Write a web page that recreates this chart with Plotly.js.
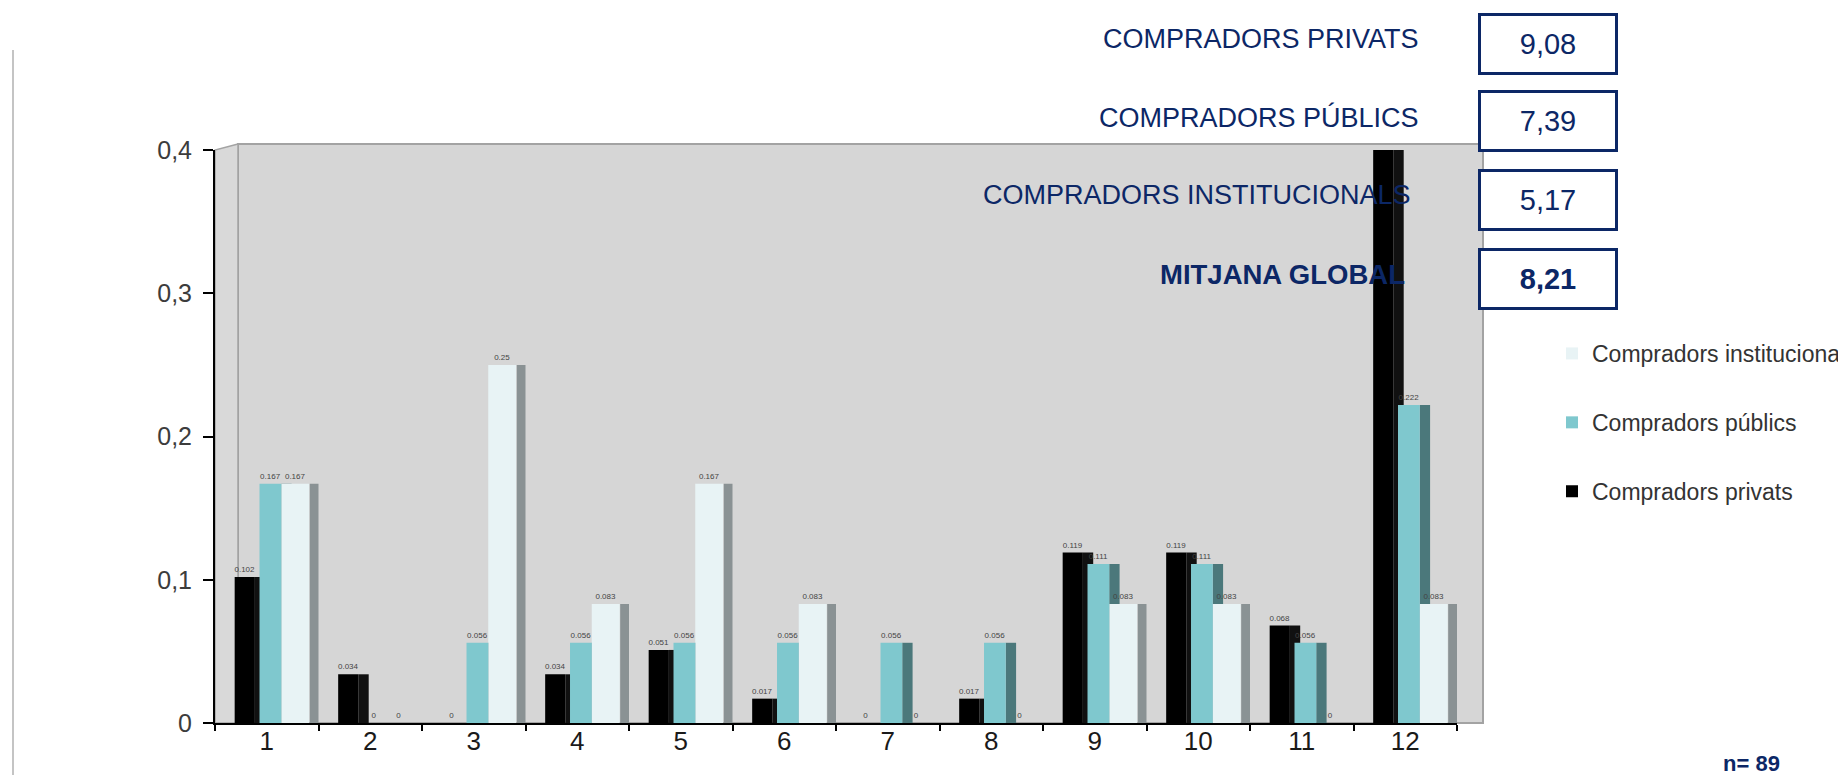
<!DOCTYPE html>
<html>
<head>
<meta charset="utf-8">
<script src="https://cdn.plot.ly/plotly-3.0.1.min.js"></script>
<style>
html,body{margin:0;padding:0;background:#fff;}
#chart{width:1838px;height:775px;}
</style>
</head>
<body>
<div id="chart"></div>
<script>
// ---- data ----
const categories = ['1','2','3','4','5','6','7','8','9','10','11','12'];
const privats = [0.102, 0.034, 0, 0.034, 0.051, 0.017, 0, 0.017, 0.119, 0.119, 0.068, 0.441];
const publics = [0.167, 0, 0.056, 0.056, 0.056, 0.056, 0.056, 0.056, 0.111, 0.111, 0.056, 0.222];
const institucionals = [0.167, 0, 0.25, 0.083, 0.167, 0.083, 0, 0, 0.083, 0.083, 0, 0.083];
const seriesNames = ['Compradors privats', 'Compradors públics', 'Compradors institucionals'];
const yTicks = [0, 0.1, 0.2, 0.3, 0.4];
const summaryLabels = ['COMPRADORS PRIVATS', 'COMPRADORS PÚBLICS', 'COMPRADORS INSTITUCIONALS', 'MITJANA GLOBAL'];
const summaryValues = ['9,08', '7,39', '5,17', '8,21'];
const sampleLabel = 'n= 89';

// ---- layout geometry ----
const W = 1838, H = 775;
const M = {l: 215, r: 381, t: 150, b: 52, autoexpand: false};
const PW = W - M.l - M.r, PH = H - M.t - M.b;
const px2x = p => (p - M.l) / PW;
const px2y = p => (H - M.b - p) / PH;

const navy = '#0c2766';
const sans = 'Liberation Sans, Arial, sans-serif';

function side(y, offset, width, color) {
  return {type: 'bar', x: categories, y: y, offset: offset, width: width,
    marker: {color: color, line: {width: 0}}, showlegend: false, hoverinfo: 'skip'};
}
function front(y, name, offset, width, color, group) {
  return {type: 'bar', x: categories, y: y, name: name, offset: offset, width: width,
    legendgroup: group,
    marker: {color: color, line: {width: 0}},
    text: y.map(v => String(v)), texttemplate: '%{text}', textposition: 'outside',
    constraintext: 'none',
    textfont: {size: 8, color: '#444', family: sans}};
}

const traces = [
  side(privats, -0.115, 0.1, '#111111'),
  side(publics, 0.14, 0.1, '#4b787b'),
  side(institucionals, 0.415, 0.085, '#8a9294'),
  front(institucionals, seriesNames[2], 0.14, 0.27, '#e8f3f5', 'c'),
  front(publics, seriesNames[1], -0.07, 0.21, '#7fc8ce', 'b'),
  front(privats, seriesNames[0], -0.31, 0.195, '#000000', 'a')
];

const annotations = [];
const labelRight = [1421, 1421, 1413, 1407];
const labelY = [39, 117, 195, 274];
const boxY = [43.5, 121.5, 200, 278.5];
summaryLabels.forEach((t, i) => {
  const bold = i === summaryLabels.length - 1;
  annotations.push({xref: 'paper', yref: 'paper', x: px2x(labelRight[i]), y: px2y(labelY[i]),
    xanchor: 'right', yanchor: 'middle', showarrow: false,
    text: bold ? '<b>' + t + '</b>' : t,
    font: {family: sans, size: bold ? 27.5 : 27, color: navy}});
  annotations.push({xref: 'paper', yref: 'paper', x: px2x(1548), y: px2y(boxY[i]),
    xanchor: 'center', yanchor: 'middle', showarrow: false,
    text: bold ? '<b>' + summaryValues[i] + '</b>' : summaryValues[i],
    width: 134, height: 56, borderpad: 0, bordercolor: navy, borderwidth: 3,
    bgcolor: '#ffffff', align: 'center', valign: 'middle',
    font: {family: sans, size: 29, color: navy}});
});
annotations.push({xref: 'paper', yref: 'paper', x: px2x(1782), y: px2y(763),
  xanchor: 'right', yanchor: 'middle', showarrow: false,
  text: '<b>' + sampleLabel + '</b>', font: {family: sans, size: 22, color: navy}});

const shapes = [
  // back wall
  {type: 'rect', xref: 'paper', yref: 'paper', x0: px2x(238), x1: px2x(1483), y0: 0, y1: px2y(144),
    fillcolor: '#d6d6d6', line: {color: '#a3a3a3', width: 2}, layer: 'below'},
  // left side wall
  {type: 'path', xref: 'paper', yref: 'paper',
    path: `M 0 0 L 0 1 L ${px2x(238)} ${px2y(144)} L ${px2x(238)} 0 Z`,
    fillcolor: '#d9d9d9', line: {color: '#a3a3a3', width: 1.5}, layer: 'below'},
  // page-left rule
  {type: 'line', xref: 'paper', yref: 'paper', x0: px2x(13), x1: px2x(13), y0: px2y(50), y1: px2y(780),
    line: {color: '#c4c4c4', width: 2}}
];

const layout = {
  width: W, height: H,
  margin: M,
  paper_bgcolor: '#ffffff',
  plot_bgcolor: 'rgba(0,0,0,0)',
  barmode: 'overlay',
  separators: ',.',
  font: {family: sans, color: '#333'},
  xaxis: {type: 'category', range: [-0.5, 11.5], showline: true, linecolor: '#000', linewidth: 2,
    ticks: 'outside', tickson: 'boundaries', ticklen: 6, tickwidth: 2, tickcolor: '#000',
    ticklabelstandoff: -6,
    showgrid: false, zeroline: false, tickfont: {family: sans, size: 26, color: '#1a1a1a'}},
  yaxis: {range: [0, 0.4], tickvals: yTicks, showline: true, linecolor: '#000', linewidth: 2,
    ticks: 'outside', ticklen: 10, tickwidth: 2, tickcolor: '#000', ticklabelstandoff: 6,
    showgrid: false, zeroline: false, tickfont: {family: sans, size: 25, color: '#3c3c3c'}},
  legend: {x: px2x(1552), y: px2y(332), xanchor: 'left', yanchor: 'top',
    traceorder: 'grouped', tracegroupgap: 36, bgcolor: 'rgba(0,0,0,0)',
    font: {family: sans, size: 23, color: '#333'}},
  annotations: annotations,
  shapes: shapes,
  showlegend: true
};

Plotly.newPlot('chart', traces, layout, {displayModeBar: false, staticPlot: true});
</script>
</body>
</html>
